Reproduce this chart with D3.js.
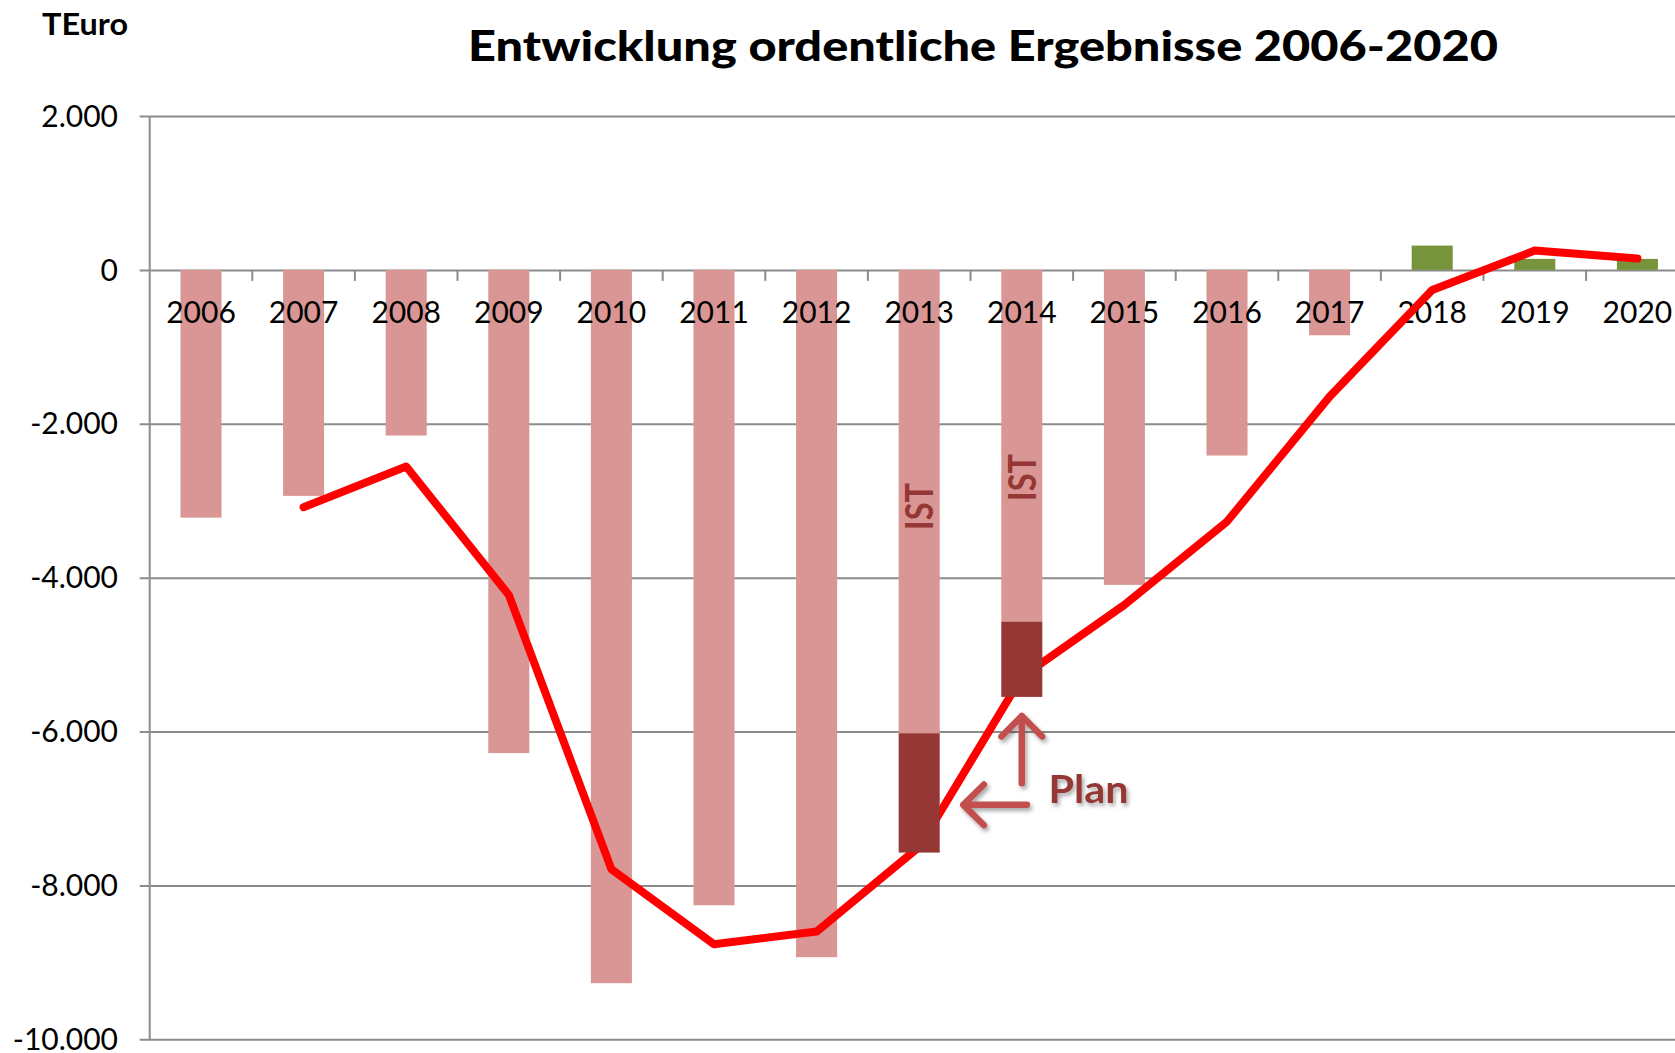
<!DOCTYPE html>
<html>
<head>
<meta charset="utf-8">
<script src="https://cdn.jsdelivr.net/npm/d3@7/dist/d3.min.js"></script>
<style>
  html, body { margin: 0; padding: 0; background: #fff; }
  svg { display: block; }
  text { font-family: Lato, "Liberation Sans", Arial, sans-serif; }
</style>
</head>
<body>
<svg id="chart" width="1675" height="1053"></svg>
<script>
// ---------- data ----------
const years = ["2006","2007","2008","2009","2010","2011","2012","2013","2014","2015","2016","2017","2018","2019","2020"];
// IST results (bars)
const istValues = [-3220, -2937, -2153, -6280, -9271, -8258, -8933, -6022, -4571, -4094, -2413, -850, 316, 143, 143];
// additional Plan part (dark segment below IST) for 2013 and 2014
const planExtra = [0, 0, 0, 0, 0, 0, 0, -1551, -979, 0, 0, 0, 0, 0, 0];
// red line series (plan)
const lineValues = [null, -3084, -2556, -4224, -7789, -8764, -8600, -7500, -5290, -4354, -3271, -1647, -262, 251, 147];
const yTicks = [2000, 0, -2000, -4000, -6000, -8000, -10000];
const titleText = "Entwicklung ordentliche Ergebnisse 2006-2020";
const unitText = "TEuro";
const istLabels = [{year: "2013", value: -3074}, {year: "2014", value: -2697}];
const planLabel = {text: "Plan", idx: 8.26, value: -6928};
// arrows: positions in category-index units and data values
const arrows = [
  {x1: 8.0, y1: -6671, x2: 8.0, y2: -5797},
  {x1: 8.05, y1: -6953, x2: 7.43, y2: -6953}
];

// ---------- setup ----------
const W = 1675, H = 1053;
const svg = d3.select("#chart");
const plotLeft = 149.7, step = 102.6;
const plotRight = plotLeft + step * years.length;

const x = d3.scaleBand().domain(years).range([plotLeft, plotRight]).paddingInner(0.6).paddingOuter(0.3);
const y = d3.scaleLinear().domain([-10000, 2000]).range([1039.3, 116]);
const cx = d => x(d) + x.bandwidth() / 2;
const xi = i => cx(years[0]) + i * x.step();

const de = d3.formatLocale({decimal: ",", thousands: ".", grouping: [3], currency: ["", "€"], minus: "-"});
const fmt = de.format(",.0f");

const gridColor = "#8c8c8c";

// defs: shadow
const defs = svg.append("defs");
const f = defs.append("filter").attr("id", "shadow").attr("x", "-50%").attr("y", "-50%").attr("width", "200%").attr("height", "200%");
f.append("feDropShadow").attr("dx", 2).attr("dy", 3).attr("stdDeviation", 2).attr("flood-color", "#000").attr("flood-opacity", 0.35);

// gridlines + y ticks
const yAxis = d3.axisLeft(y).tickValues(yTicks).tickSize(-(W - 140)).tickPadding(22).tickFormat(fmt);
const gy = svg.append("g").attr("transform", `translate(${plotLeft},0)`).call(yAxis);
gy.select(".domain").remove();
gy.selectAll(".tick line").attr("stroke", gridColor).attr("stroke-width", 2).attr("x1", -10);
gy.selectAll(".tick text").attr("font-size", 30).attr("fill", "#000").attr("dy", "0.34em").attr("x", -31.7);

// left axis line
svg.append("line").attr("x1", plotLeft).attr("x2", plotLeft).attr("y1", y(2000)).attr("y2", y(-10000))
  .attr("stroke", gridColor).attr("stroke-width", 2);

// category ticks on zero line (between categories)
svg.append("g").selectAll("line").data(years.slice(1)).join("line")
  .attr("x1", d => x(d) - x.step() * 0.3).attr("x2", d => x(d) - x.step() * 0.3)
  .attr("y1", y(0)).attr("y2", y(0) + 11)
  .attr("stroke", gridColor).attr("stroke-width", 2);

// bars (IST)
svg.append("g").selectAll("rect").data(years).join("rect")
  .attr("x", d => x(d))
  .attr("width", x.bandwidth())
  .attr("y", (d, i) => y(Math.max(0, istValues[i])))
  .attr("height", (d, i) => Math.abs(y(istValues[i]) - y(0)))
  .attr("fill", (d, i) => istValues[i] < 0 ? "#D99694" : "#77933C");

// x labels
svg.append("g").selectAll("text").data(years).join("text")
  .attr("x", d => cx(d)).attr("y", y(0) + 53)
  .attr("text-anchor", "middle").attr("font-size", 30).attr("fill", "#000")
  .text(d => d);

// red line
const line = d3.line().defined(d => d.v !== null).x(d => cx(d.year)).y(d => y(d.v));
svg.append("path")
  .datum(years.map((yr, i) => ({year: yr, v: lineValues[i]})))
  .attr("d", line)
  .attr("fill", "none").attr("stroke", "#FF0000").attr("stroke-width", 8)
  .attr("stroke-linejoin", "round").attr("stroke-linecap", "round");

// plan extension segments (dark)
svg.append("g").selectAll("rect").data(years.filter((d, i) => planExtra[i] !== 0)).join("rect")
  .attr("x", d => x(d))
  .attr("width", x.bandwidth())
  .attr("y", d => y(istValues[years.indexOf(d)]))
  .attr("height", d => { const i = years.indexOf(d); return y(istValues[i] + planExtra[i]) - y(istValues[i]); })
  .attr("fill", "#953735");

// IST labels
svg.append("g").selectAll("text").data(istLabels).join("text")
  .attr("transform", d => `translate(${cx(d.year) + 14},${y(d.value)}) rotate(-90)`)
  .attr("text-anchor", "middle").attr("font-size", 38).attr("font-weight", "bold")
  .attr("fill", "#953735").attr("textLength", 47).attr("lengthAdjust", "spacingAndGlyphs")
  .text("IST");

// arrows
const ag = svg.append("g").attr("filter", "url(#shadow)");
arrows.forEach(a => {
  const X1 = xi(a.x1), Y1 = y(a.y1), X2 = xi(a.x2), Y2 = y(a.y2);
  const ang = Math.atan2(Y2 - Y1, X2 - X1);
  const hl = 29, ha = 0.78;
  const p1 = [X2 - hl * Math.cos(ang - ha), Y2 - hl * Math.sin(ang - ha)];
  const p2 = [X2 - hl * Math.cos(ang + ha), Y2 - hl * Math.sin(ang + ha)];
  ag.append("path")
    .attr("d", `M${X1},${Y1}L${X2},${Y2}M${p1[0]},${p1[1]}L${X2},${Y2}L${p2[0]},${p2[1]}`)
    .attr("fill", "none").attr("stroke", "#C0504D").attr("stroke-width", 6.5)
    .attr("stroke-linecap", "round").attr("stroke-linejoin", "round");
});

// Plan label
svg.append("text").attr("x", xi(planLabel.idx)).attr("y", y(planLabel.value))
  .attr("font-size", 39).attr("font-weight", "bold").attr("fill", "#953735")
  .attr("textLength", 80).attr("lengthAdjust", "spacingAndGlyphs")
  .attr("filter", "url(#shadow)")
  .text(planLabel.text);

// title + unit
svg.append("text").attr("x", 468).attr("y", 61)
  .attr("font-size", 42).attr("font-weight", "900").attr("fill", "#000")
  .attr("textLength", 1030).attr("lengthAdjust", "spacingAndGlyphs")
  .text(titleText);
svg.append("text").attr("x", 42).attr("y", 35)
  .attr("font-size", 31).attr("font-weight", "bold").attr("fill", "#000")
  .attr("textLength", 86).attr("lengthAdjust", "spacingAndGlyphs")
  .text(unitText);
</script>
</body>
</html>
